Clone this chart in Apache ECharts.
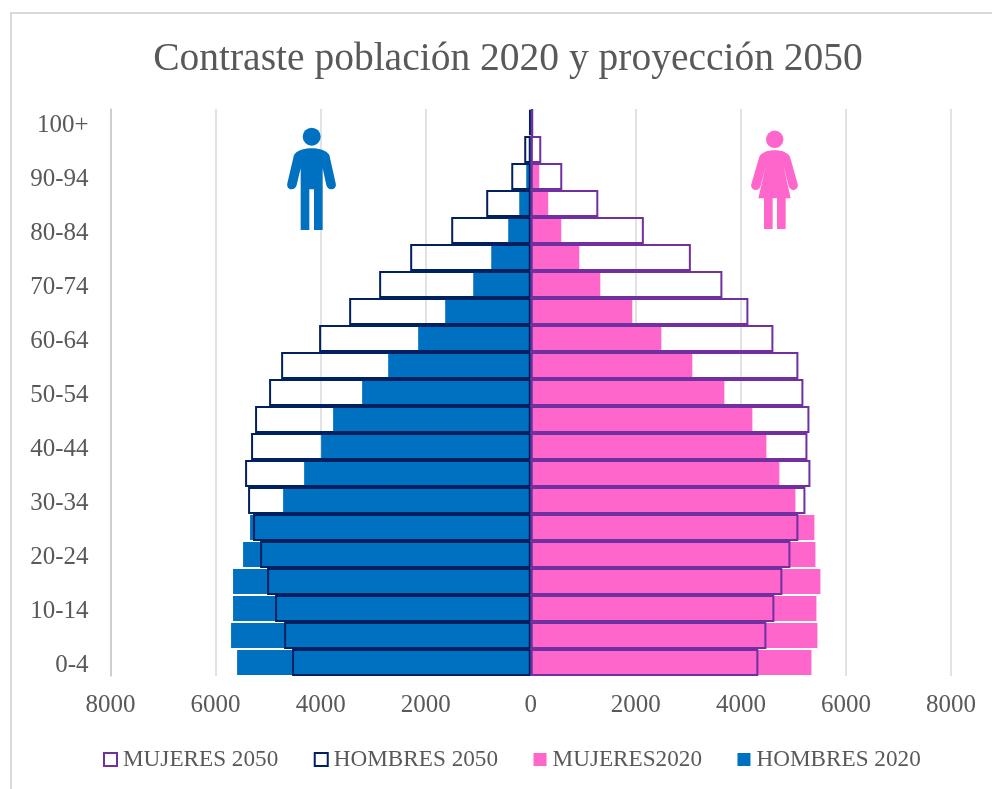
<!DOCTYPE html>
<html>
<head>
<meta charset="utf-8">
<style>html,body{margin:0;padding:0;background:#fff}#c{width:992px;height:789px}</style>
<script src="https://cdn.jsdelivr.net/npm/echarts@6/dist/echarts.min.js"></script>
</head>
<body>
<div id="c"></div>
<script>
const categories = ['0-4','5-9','10-14','15-19','20-24','25-29','30-34','35-39','40-44','45-49','50-54','55-59','60-64','65-69','70-74','75-79','80-84','85-89','90-94','95-99','100+'];
const hombres2020 = [5590,5705,5667,5667,5476,5343,4714,4314,3990,3762,3210,2714,2143,1629,1095,752,429,219,86,25,5];
const hombres2050 = [4543,4695,4867,5019,5152,5286,5381,5438,5324,5248,4981,4752,4029,3457,2886,2295,1514,848,371,124,30];
const mujeres2020 = [5343,5457,5438,5514,5419,5400,5038,4733,4486,4219,3686,3076,2486,1933,1324,924,581,333,162,40,10];
const mujeres2050 = [4333,4486,4638,4790,4943,5095,5229,5324,5267,5305,5190,5095,4619,4143,3648,3048,2153,1286,600,200,48];
const xTicks = {min:-8000,max:8000,interval:2000};
const FONT = '"Liberation Serif"';
const TXT = '#595959';
const neg = a => a.map(v => -v);
const chart = echarts.init(document.getElementById('c'), null, {renderer:'canvas'});
const MAN = 'M125 145 C150 145 170 152 178 165 L197 250 C200 262 192 268 183 268 C176 268 171 262 169 255 L158 205 L158 390 L132 390 L132 268 L118 268 L118 390 L92 390 L92 205 L80 255 C78 262 73 268 65 268 C56 268 50 262 52 250 L72 165 C80 152 100 145 125 145 Z';
const WOMAN = 'M224 121 C245 121 262 127 270 140 L293 222 C296 232 288 240 280 240 C273 240 268 235 266 228 L250 165 L272 265 L257 265 L257 357 L231 357 L231 265 L218 265 L218 357 L192 357 L192 265 L175 265 L198 165 L182 228 C180 235 175 240 167 240 C159 240 151 232 154 222 L178 140 C186 127 203 121 224 121 Z';
echarts.graphic.registerShape('manIcon', echarts.graphic.extendPath(MAN, {}));
echarts.graphic.registerShape('womanIcon', echarts.graphic.extendPath(WOMAN, {}));
chart.setOption({
  animation:false,
  backgroundColor:'#fff',
  textStyle:{fontFamily:FONT},
  title:{text:'Contraste población 2020 y proyección 2050',left:503,top:35,textAlign:'center',
    textStyle:{fontFamily:FONT,fontSize:39.5,fontWeight:'normal',color:TXT}},
  legend:{left:98,top:743,itemWidth:13,itemHeight:13,itemGap:35.5,icon:'rect',
    data:['MUJERES 2050','HOMBRES 2050','MUJERES2020','HOMBRES 2020'],
    textStyle:{fontFamily:FONT,fontSize:23.2,color:TXT,padding:[0,0,0,1]}},
  grid:{left:110.5,right:41,top:109,bottom:113},
  xAxis:{type:'value',min:xTicks.min,max:xTicks.max,interval:xTicks.interval,z:0,
    axisLine:{show:false},axisTick:{show:false},
    axisLabel:{fontFamily:FONT,fontSize:25,color:TXT,margin:17,formatter:v=>String(Math.abs(v))},
    splitLine:{show:true,lineStyle:{color:'#D9D9D9',width:1.5}}},
  yAxis:[
    {type:'category',data:categories,axisLine:{show:false},axisTick:{show:false},
     axisLabel:{interval:1,margin:22,formatter:v=>'{a|'+v+'}',
       rich:{a:{fontFamily:FONT,fontSize:25,color:TXT,padding:[5,0,0,0]}}},z:5},
    {type:'category',data:categories,position:'left',axisLine:{show:true,onZero:true,lineStyle:{color:'#C8C8C8',width:1.5}},
     axisTick:{show:false},axisLabel:{show:false},z:5}
  ],
  series:[
    {name:'HOMBRES 2020',type:'bar',stack:'a',yAxisIndex:0,data:neg(hombres2020),barWidth:25,z:2,itemStyle:{color:'#0070C0'}},
    {name:'MUJERES2020',type:'bar',stack:'a',yAxisIndex:0,data:mujeres2020,barWidth:25,z:2,itemStyle:{color:'#FF66CC'}},
    {name:'HOMBRES 2050',type:'bar',stack:'b',yAxisIndex:1,data:neg(hombres2050),barWidth:27,z:3,
      itemStyle:{color:'transparent',borderColor:'#002060',borderWidth:2}},
    {name:'MUJERES 2050',type:'bar',stack:'b',yAxisIndex:1,data:mujeres2050,barWidth:27,z:3,
      itemStyle:{color:'transparent',borderColor:'#7030A0',borderWidth:2}}
  ],
  graphic:[
    {type:'rect',z:-1,shape:{x:11,y:13,width:1100,height:900},style:{fill:'#fff',stroke:'#D9D9D9',lineWidth:2}},
    {type:'circle',z:10,shape:{cx:311.7,cy:136.7,r:9},style:{fill:'#0070C0'}},
    {type:'manIcon',z:10,x:270,y:100,scaleX:1/3,scaleY:1/3,style:{fill:'#0070C0'}},
    {type:'circle',z:10,shape:{cx:774.7,cy:139.3,r:8.7},style:{fill:'#FF66CC'}},
    {type:'womanIcon',z:10,x:700,y:110,scaleX:1/3,scaleY:1/3,style:{fill:'#FF66CC'}}
  ]
});
</script>
</body>
</html>
